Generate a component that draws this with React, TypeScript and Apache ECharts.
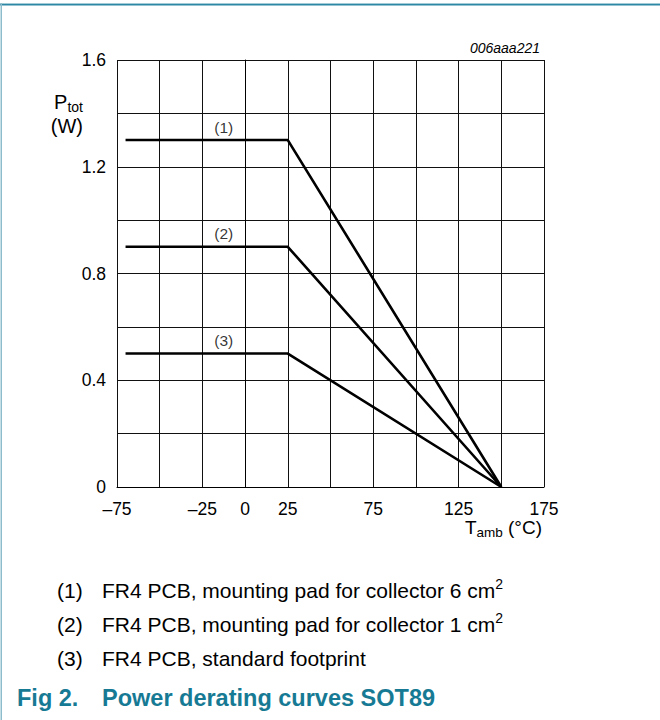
import React, { useEffect, useRef } from "react";
import * as echarts from "echarts";

const tempC = [-70, 25, 150];
const curve1 = [1.3, 1.3, 0];
const curve2 = [0.9, 0.9, 0];
const curve3 = [0.5, 0.5, 0];
const curveNames = ["(1)", "(2)", "(3)"];
const curveLabelTemp = -12.5;
const xTickLabels = [-75, -25, 0, 25, 75, 125, 175];
const yTickLabels = [0, 0.4, 0.8, 1.2, 1.6];
const legendKeys = ["(1)", "(2)", "(3)"];
const legendTexts = [
  "FR4 PCB, mounting pad for collector 6 cm",
  "FR4 PCB, mounting pad for collector 1 cm",
  "FR4 PCB, standard footprint",
];
const legendSup = ["2", "2", ""];
const figureId = "006aaa221";
const captionNo = "Fig 2.";
const captionText = "Power derating curves SOT89";

const FONT = "'Liberation Sans', Arial, Helvetica, sans-serif";
const TEAL = "#177a94";

export default function App() {
  const ref = useRef<HTMLDivElement>(null);
  useEffect(() => {
    document.body.style.margin = "0";
    const chart = echarts.init(ref.current!, null, { renderer: "svg" });
    const curves = [curve1, curve2, curve3];
    const lineSeries = curves.map((c, k) => ({
      type: "line",
      name: curveNames[k],
      data: tempC.map((t, i) => [t, c[i]]),
      symbol: "none",
      lineStyle: { color: "#000", width: 2.6 },
      z: 5,
    }));
    const labelSeries = {
      type: "scatter",
      symbolSize: 0,
      data: curves.map((c, k) => ({ value: [curveLabelTemp, c[0]], name: curveNames[k] })),
      label: {
        show: true,
        position: "top",
        distance: 5,
        formatter: (p: any) => p.name,
        fontSize: 15.5,
        fontFamily: FONT,
        color: "#000",
      },
      z: 6,
    };
    const legendGraphics: any[] = [];
    legendTexts.forEach((t, i) => {
      const y = 590 + i * 34;
      legendGraphics.push({
        type: "text",
        x: 57,
        y,
        style: { text: legendKeys[i], fontSize: 21, fontFamily: FONT, fill: "#000", verticalAlign: "middle" },
      });
      legendGraphics.push({
        type: "text",
        x: 102,
        y,
        style: {
          text: legendSup[i] ? `{m|${t}}{s|${legendSup[i]}}` : `{m|${t}}`,
          verticalAlign: "middle",
          rich: {
            m: { fontSize: 21, fontFamily: FONT, color: "#000", lineHeight: 26 },
            s: { fontSize: 14, fontFamily: FONT, color: "#000", verticalAlign: "top", lineHeight: 14 },
          },
        },
      });
    });
    const option: any = {
      animation: false,
      grid: { left: 117, top: 60, width: 427, height: 427, containLabel: false },
      xAxis: {
        type: "value",
        min: -75,
        max: 175,
        interval: 25,
        axisLine: { show: true, lineStyle: { color: "#000", width: 1 } },
        axisTick: { show: false },
        splitLine: { show: true, lineStyle: { color: "#111", width: 1 } },
        axisLabel: {
          fontSize: 17.5,
          fontFamily: FONT,
          color: "#000",
          margin: 13,
          formatter: (v: number) => (xTickLabels.includes(v) ? String(v).replace("-", "\u2013") : ""),
        },
      },
      yAxis: {
        type: "value",
        min: 0,
        max: 1.6,
        interval: 0.2,
        axisLine: { show: true, lineStyle: { color: "#000", width: 1 } },
        axisTick: { show: false },
        splitLine: { show: true, lineStyle: { color: "#111", width: 1 } },
        axisLabel: {
          fontSize: 17.5,
          fontFamily: FONT,
          color: "#000",
          margin: 11,
          formatter: (v: number) => {
            const r = Math.round(v * 10) / 10;
            return yTickLabels.some((t) => Math.abs(t - r) < 1e-6) ? (r === 0 ? "0" : r.toFixed(1)) : "";
          },
        },
      },
      series: [...lineSeries, labelSeries],
      graphic: [
        { type: "rect", shape: { x: 0, y: 3, width: 660, height: 1 }, style: { fill: "#a3cbd7" } },
        { type: "rect", shape: { x: 0, y: 4, width: 660, height: 1.5 }, style: { fill: "#2c88a4" } },
        { type: "rect", shape: { x: 0.5, y: 3, width: 1.5, height: 717 }, style: { fill: "#8dbdcd" } },
        {
          type: "text",
          x: 540,
          y: 48,
          style: { text: figureId, fontSize: 14, fontStyle: "italic", fontFamily: FONT, fill: "#000", align: "right", verticalAlign: "middle" },
        },
        {
          type: "text",
          x: 83,
          y: 102,
          style: {
            text: "{m|P}{s|tot}",
            align: "right",
            verticalAlign: "middle",
            rich: {
              m: { fontSize: 20, fontFamily: FONT, color: "#000", lineHeight: 24 },
              s: { fontSize: 14, fontFamily: FONT, color: "#000", verticalAlign: "bottom", lineHeight: 14 },
            },
          },
        },
        {
          type: "text",
          x: 83,
          y: 126,
          style: { text: "(W)", fontSize: 20, fontFamily: FONT, fill: "#000", align: "right", verticalAlign: "middle" },
        },
        {
          type: "text",
          x: 542,
          y: 527,
          style: {
            text: "{m|T}{s|amb}{m| (\u00b0C)}",
            align: "right",
            verticalAlign: "middle",
            rich: {
              m: { fontSize: 19, fontFamily: FONT, color: "#000", lineHeight: 24 },
              s: { fontSize: 13.5, fontFamily: FONT, color: "#000", verticalAlign: "bottom", lineHeight: 13 },
            },
          },
        },
        ...legendGraphics,
        {
          type: "text",
          x: 17,
          y: 698,
          style: { text: captionNo, fontSize: 23.5, fontWeight: "bold", fontFamily: FONT, fill: TEAL, verticalAlign: "middle" },
        },
        {
          type: "text",
          x: 102,
          y: 698,
          style: { text: captionText, fontSize: 23.5, fontWeight: "bold", fontFamily: FONT, fill: TEAL, verticalAlign: "middle" },
        },
      ],
    };
    chart.setOption(option);
    return () => chart.dispose();
  }, []);
  return <div ref={ref} style={{ width: 660, height: 720 }} />;
}
